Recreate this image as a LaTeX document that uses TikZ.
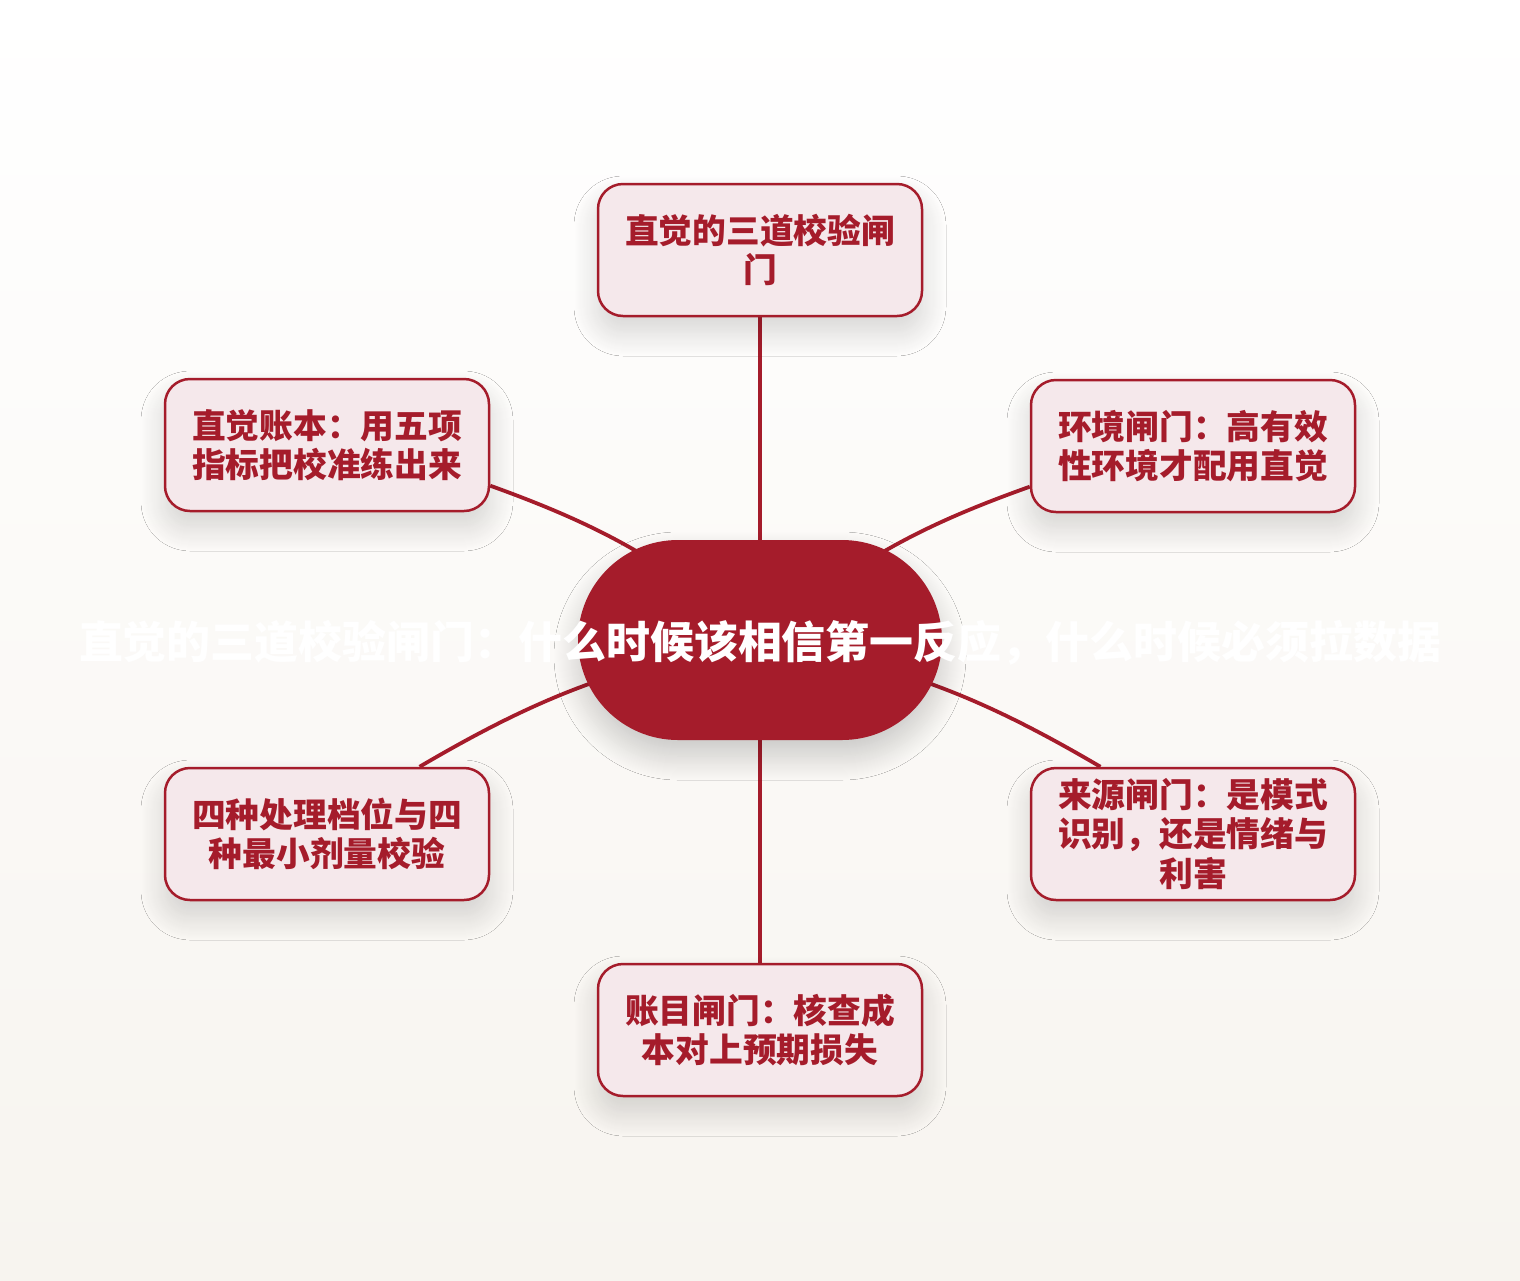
\documentclass[tikz,border=0pt]{standalone}
\usepackage{fontspec}
\newfontfamily\cjk{Noto Sans CJK SC}
\usetikzlibrary{shadows.blur}
\definecolor{gatered}{HTML}{A51C2B}
\definecolor{gatepink}{HTML}{F5E8EB}
\definecolor{paperlow}{HTML}{F7F4EF}
\pgfdeclarelayer{background}
\pgfsetlayers{background,main}

\begin{document}
\begin{tikzpicture}[x=0.1mm, y=-0.1mm,
	soft/.style={blur shadow={shadow xshift=0mm, shadow yshift=-1.6mm, shadow blur radius=2.4mm, shadow blur steps=24, shadow opacity=#1}},
	gate/.style={rectangle, rounded corners=2.5mm, draw=gatered, line width=0.25mm, fill=gatepink, text=gatered, minimum width=32.4mm, minimum height=13.2mm, inner sep=0.5mm, align=center, font=\cjk\bfseries\fontsize{9.6}{11.1}\selectfont, soft=16},
	hub/.style={rectangle, rounded corners=10mm, fill=gatered, minimum width=36.4mm, minimum height=20mm, soft=20},
	link/.style={draw=gatered, line width=0.38mm}]

% Centre
\node[hub] (hub) at (760,640) {};
\node[text=white, inner sep=0, font=\cjk\bfseries\fontsize{12.5}{14}\selectfont] (title) at (760,643) {直觉的三道校验闸门：什么时候该相信第一反应，什么时候必须拉数据};

% Gates
\node[gate] (top) at (760,250) {直觉的三道校验闸\\门};
\node[gate] (ul) at (327,445) {直觉账本：用五项\\指标把校准练出来};
\node[gate] (ur) at (1193,446) {环境闸门：高有效\\性环境才配用直觉};
\node[gate] (ll) at (327,834) {四种处理档位与四\\种最小剂量校验};
\node[gate] (lr) at (1193,834) {来源闸门：是模式\\识别，还是情绪与\\利害};
\node[gate] (bot) at (760,1030) {账目闸门：核查成\\本对上预期损失};

% Paper and connectors behind the nodes
\begin{pgfonlayer}{background}
\shade[top color=white, bottom color=paperlow] (0,0) rectangle (1520,1280);
\foreach \n/\b in {top.south/0, ul.-14/10, ur.194/-10, ll.36/10, lr.144/-10, bot.north/0}
	\draw[link] (\n) to[bend left=\b] (hub.center);
\end{pgfonlayer}
\end{tikzpicture}
\end{document}
